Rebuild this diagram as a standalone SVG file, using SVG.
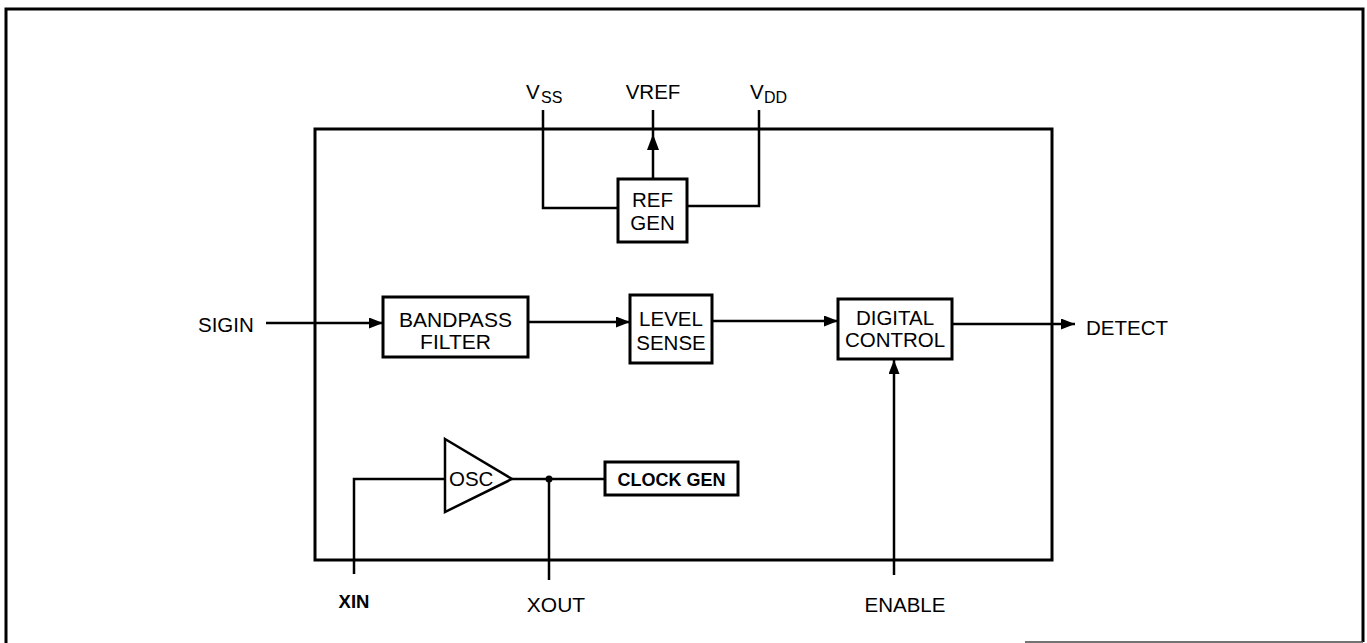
<svg xmlns="http://www.w3.org/2000/svg" width="1367" height="643" viewBox="0 0 1367 643">
<style>
.t{font-family:"Liberation Sans",Arial,sans-serif;font-size:20.5px;fill:#000}
.b{font-weight:bold}
.box{fill:#fff;stroke:#000;stroke-width:3}
.w{fill:none;stroke:#000;stroke-width:2.5}
.ah{fill:#000}
</style>
<defs>
<marker id="arr" viewBox="0 0 14 11" refX="14" refY="5.5" markerWidth="14" markerHeight="11" markerUnits="userSpaceOnUse" orient="auto">
<path d="M0,0 L14,5.5 L0,11 Z" fill="#000"/>
</marker>
</defs>
<rect width="1367" height="643" fill="#fff"/>
<g id="frame">
<polyline points="6,643 6,9 1363,9 1363,642" fill="none" stroke="#000" stroke-width="3"/>
<line x1="1025" y1="642" x2="1363" y2="642" stroke="#444" stroke-width="1.5"/>
</g>
<g id="chip">
<rect x="315" y="129" width="737" height="431" fill="none" stroke="#000" stroke-width="3"/>
</g>
<g id="connectors">
<polyline class="w" points="543,110 543,208 618,208"/>
<polyline class="w" points="759,110 759,206 687,206"/>
<line class="w" x1="653" y1="110" x2="653" y2="179"/>
<path class="ah" d="M653,134 L647,150 L659,150 Z"/>
<line class="w" x1="266" y1="323" x2="383" y2="323" marker-end="url(#arr)"/>
<line class="w" x1="528" y1="322" x2="630" y2="322" marker-end="url(#arr)"/>
<line class="w" x1="712" y1="321" x2="838" y2="321" marker-end="url(#arr)"/>
<line class="w" x1="952" y1="324" x2="1075" y2="324" marker-end="url(#arr)"/>
<line class="w" x1="894" y1="575" x2="894" y2="360" marker-end="url(#arr)"/>
<polyline class="w" points="354,574 354,479 445,479"/>
<line class="w" x1="512" y1="479" x2="605" y2="479"/>
<line class="w" x1="549" y1="479" x2="549" y2="580"/>
<circle cx="549" cy="479" r="3.5" fill="#000"/>
</g>
<g id="vss"><text class="t" x="526" y="99">V</text><text class="t" x="541" y="103" style="font-size:16px">SS</text></g>
<g id="vref"><text class="t" x="653" y="99" text-anchor="middle">VREF</text></g>
<g id="vdd"><text class="t" x="750" y="99">V</text><text class="t" x="764" y="103" style="font-size:16px">DD</text></g>
<g id="refgen">
<rect class="box" x="618" y="179" width="69" height="63"/>
<text class="t" x="652.5" y="207" text-anchor="middle">REF</text>
<text class="t" x="652.5" y="230" text-anchor="middle">GEN</text>
</g>
<g id="sigin"><text class="t" x="198" y="332">SIGIN</text></g>
<g id="bandpass">
<rect class="box" x="383" y="297" width="145" height="60"/>
<text class="t" x="455.5" y="327" text-anchor="middle" style="font-size:21px">BANDPASS</text>
<text class="t" x="455.5" y="349" text-anchor="middle" style="font-size:21px">FILTER</text>
</g>
<g id="level">
<rect class="box" x="630" y="295" width="82" height="68"/>
<text class="t" x="671" y="326" text-anchor="middle">LEVEL</text>
<text class="t" x="671" y="350" text-anchor="middle">SENSE</text>
</g>
<g id="digital">
<rect class="box" x="838" y="299" width="114" height="60"/>
<text class="t" x="895" y="325" text-anchor="middle">DIGITAL</text>
<text class="t" x="895" y="347" text-anchor="middle">CONTROL</text>
</g>
<g id="detect"><text class="t" x="1086" y="335">DETECT</text></g>
<g id="osc">
<polygon points="445,439 512,479 445,512" fill="#fff" stroke="#000" stroke-width="2.5"/>
<text class="t" x="449" y="486">OSC</text>
</g>
<g id="clockgen">
<rect class="box" x="605" y="462" width="133" height="33"/>
<text class="t b" x="671.5" y="486" text-anchor="middle" style="font-size:18px">CLOCK GEN</text>
</g>
<g id="xin"><text class="t b" x="354" y="608" text-anchor="middle" style="font-size:18.5px">XIN</text></g>
<g id="xout"><text class="t" x="556" y="612" text-anchor="middle" style="font-size:21px">XOUT</text></g>
<g id="enable"><text class="t" x="905" y="612" text-anchor="middle">ENABLE</text></g>
</svg>
